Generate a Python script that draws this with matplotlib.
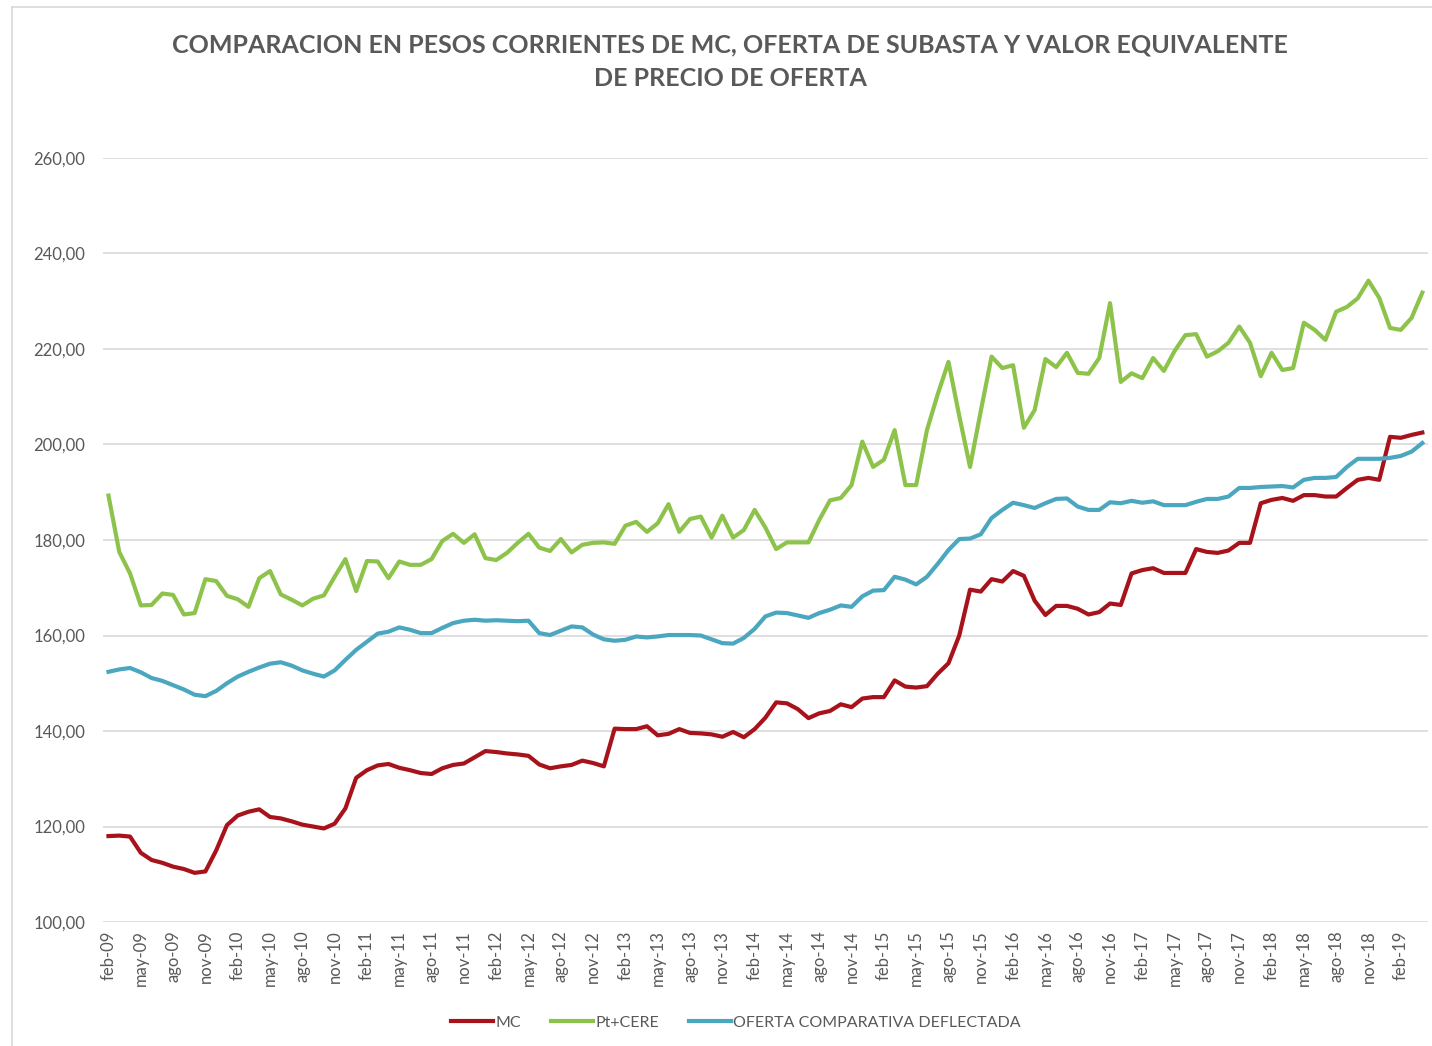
import matplotlib.pyplot as plt
from matplotlib.lines import Line2D

plt.rcParams['font.family'] = ['Lato', 'DejaVu Sans']

# monthly series feb-09 .. abr-19
mc = [118.0, 118.1, 117.9, 114.5, 113.0, 112.4, 111.6, 111.1, 110.3, 110.6,
      115.0, 120.3, 122.3, 123.1, 123.6, 122.0, 121.7, 121.1, 120.4, 120.0,
      119.6, 120.6, 123.8, 130.2, 131.8, 132.8, 133.1, 132.3, 131.8, 131.2,
      131.0, 132.2, 132.9, 133.2, 134.5, 135.8, 135.6, 135.3, 135.1, 134.8,
      133.0, 132.2, 132.6, 132.9, 133.8, 133.3, 132.6, 140.5, 140.4, 140.4,
      141.0, 139.1, 139.4, 140.4, 139.6, 139.5, 139.3, 138.8, 139.8, 138.7,
      140.4, 142.8, 146.0, 145.8, 144.6, 142.7, 143.7, 144.2, 145.6, 145.0,
      146.8, 147.1, 147.1, 150.6, 149.3, 149.1, 149.4, 152.0, 154.2, 160.0,
      169.6, 169.2, 171.8, 171.3, 173.5, 172.5, 167.3, 164.3, 166.2, 166.2,
      165.6, 164.4, 164.9, 166.7, 166.4, 173.0, 173.7, 174.1, 173.1, 173.1,
      173.1, 178.1, 177.5, 177.3, 177.8, 179.4, 179.4, 187.7, 188.4, 188.8,
      188.2, 189.4, 189.4, 189.1, 189.1, 190.9, 192.6, 193.0, 192.6, 201.6,
      201.4, 202.0, 202.5]

pt_cere = [189.3, 177.5, 173.0, 166.3, 166.4, 168.8, 168.5, 164.4, 164.7, 171.8,
           171.4, 168.3, 167.6, 166.0, 172.0, 173.5, 168.6, 167.5, 166.3, 167.7,
           168.4, 172.3, 176.0, 169.3, 175.6, 175.5, 172.0, 175.5, 174.8, 174.8,
           176.0, 179.8, 181.3, 179.4, 181.2, 176.2, 175.8, 177.3, 179.4, 181.3,
           178.4, 177.7, 180.2, 177.4, 179.0, 179.4, 179.5, 179.2, 183.0, 183.8,
           181.7, 183.5, 187.5, 181.7, 184.4, 184.9, 180.5, 185.1, 180.5, 182.1,
           186.3, 182.6, 178.1, 179.5, 179.5, 179.5, 184.2, 188.3, 188.8, 191.5,
           200.6, 195.3, 196.8, 203.0, 191.5, 191.5, 203.0, 210.5, 217.3, 206.0,
           195.3, 207.0, 218.4, 216.0, 216.6, 203.5, 207.2, 217.9, 216.2, 219.2,
           215.0, 214.8, 218.1, 229.6, 213.1, 214.9, 213.9, 218.1, 215.4, 219.6,
           222.9, 223.1, 218.4, 219.5, 221.3, 224.7, 221.3, 214.3, 219.2, 215.6,
           216.0, 225.5, 224.0, 221.9, 227.8, 228.8, 230.6, 234.3, 230.7, 224.4,
           224.0, 226.5, 231.8]

oferta = [152.4, 152.9, 153.2, 152.3, 151.1, 150.5, 149.6, 148.7, 147.6, 147.3,
          148.4, 150.0, 151.4, 152.4, 153.3, 154.1, 154.4, 153.7, 152.7, 152.0,
          151.4, 152.7, 154.9, 157.0, 158.7, 160.4, 160.8, 161.7, 161.2, 160.5,
          160.5, 161.6, 162.6, 163.1, 163.3, 163.1, 163.2, 163.1, 163.0, 163.1,
          160.5, 160.1, 161.0, 161.9, 161.7, 160.2, 159.2, 158.9, 159.1, 159.8,
          159.6, 159.8, 160.1, 160.1, 160.1, 160.0, 159.2, 158.4, 158.3, 159.5,
          161.4, 164.0, 164.8, 164.7, 164.2, 163.7, 164.7, 165.4, 166.3, 166.0,
          168.2, 169.4, 169.5, 172.3, 171.7, 170.7, 172.3, 175.0, 177.9, 180.2,
          180.3, 181.2, 184.6, 186.3, 187.8, 187.3, 186.7, 187.7, 188.6, 188.7,
          187.0, 186.3, 186.3, 187.9, 187.7, 188.2, 187.8, 188.1, 187.3, 187.3,
          187.3, 188.0, 188.6, 188.6, 189.1, 190.9, 190.9, 191.1, 191.2, 191.3,
          191.0, 192.6, 193.0, 193.0, 193.2, 195.3, 197.0, 197.0, 197.0, 197.2,
          197.6, 198.5, 200.3]

meses = ['feb', 'may', 'ago', 'nov']
tick_pos = list(range(0, 121, 3))
tick_labels = ['{}-{:02d}'.format(meses[(k // 3) % 4], 9 + (k + 1) // 12)
               for k in tick_pos]

gray = '#595959'
fig = plt.figure(figsize=(14.32, 10.46), dpi=100)
ax = fig.add_axes([0.072, 0.1185, 0.925, 0.7305])

x = list(range(len(mc)))
ax.plot(x, mc, color='#A8121A', lw=3.0, label='MC')
ax.plot(x, pt_cere, color='#8DC34A', lw=3.0, label='Pt+CERE')
ax.plot(x, oferta, color='#4BA7BF', lw=3.0, label='OFERTA COMPARATIVA DEFLECTADA')

ax.set_xlim(-0.5, len(mc) - 0.5)
ax.set_ylim(100, 260)
ax.set_yticks(range(100, 261, 20))
ax.set_yticklabels(['{:.2f}'.format(v).replace('.', ',') for v in range(100, 261, 20)])
ax.set_xticks(tick_pos)
ax.set_xticklabels(tick_labels, rotation=90)
ax.tick_params(axis='both', length=0, colors=gray, labelsize=12)
ax.tick_params(axis='y', pad=13)
ax.tick_params(axis='x', pad=6)
ax.grid(axis='y', color='#d9d9d9', lw=1.2)
ax.set_axisbelow(True)
for sp in ax.spines.values():
    sp.set_visible(False)

fig.text(0.51, 0.957, 'COMPARACION EN PESOS CORRIENTES DE MC, OFERTA DE SUBASTA Y VALOR EQUIVALENTE',
         ha='center', va='center', fontsize=18, fontweight='bold', color=gray)
fig.text(0.51, 0.925, 'DE PRECIO DE OFERTA',
         ha='center', va='center', fontsize=18, fontweight='bold', color=gray)

leg = fig.legend(loc='center', bbox_to_anchor=(0.514, 0.022), ncol=3, frameon=False,
                 fontsize=11.5, handlelength=2.6, handletextpad=0.15, columnspacing=1.9)
for t in leg.get_texts():
    t.set_color(gray)

# chart border
fig.add_artist(Line2D([12 / 1432, 12 / 1432], [0, 1 - 7 / 1046], color='#d9d9d9', lw=1.2))
fig.add_artist(Line2D([12 / 1432, 1], [1 - 7 / 1046, 1 - 7 / 1046], color='#d9d9d9', lw=1.2))

plt.savefig('out.png')
